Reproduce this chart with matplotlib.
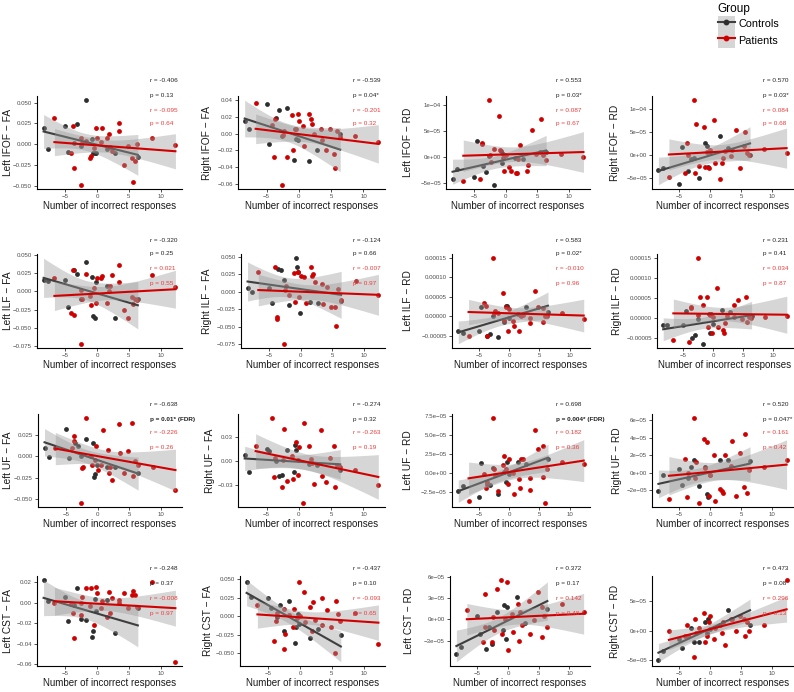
import matplotlib
matplotlib.use("Agg")
import matplotlib.pyplot as plt
from matplotlib.patches import Patch
from matplotlib.lines import Line2D
from matplotlib.legend_handler import HandlerTuple
import numpy as np

plt.rcParams['font.family'] = ['Liberation Sans', 'DejaVu Sans']

# Number of incorrect responses (centred), one value per subject
ctrl_x = [-8.4, -7.7, -5.0, -4.6, -3.6, -3.1, -2.6, -1.8, -0.8, -0.6, -0.4, -0.1, 1.5, 2.8, 6.4]
pat_x = [-6.7, -4.1, -3.8, -3.7, -2.6, -2.5, -2.3, -1.8, -1.1, -0.9, -0.5, -0.2, 0.0, 0.6, 0.8,
         1.6, 1.8, 2.0, 2.3, 3.4, 3.5, 4.2, 4.8, 5.5, 5.6, 5.9, 6.3, 8.7, 12.3]

# Row 1: IFOF
ctrl_l_ifof_fa = [0.019, -0.006, 0.0225, -0.010, 0.001, 0.024, -0.002, 0.053, 0.006, -0.011, -0.011, -0.011, -0.006, -0.011, -0.015]
pat_l_ifof_fa = [0.032, -0.011, 0.022, -0.029, -0.049, 0.007, 0.001, 0.004, -0.017, -0.014, -0.005, 0.019, 0.007, 0.003, 0.019,
                 0.008, 0.012, -0.003, -0.008, 0.026, 0.016, -0.025, -0.002, -0.017, -0.046, -0.020, 0.000, 0.007, -0.001]
ctrl_r_ifof_fa = [0.015, 0.005, 0.035, -0.012, 0.019, 0.028, -0.003, 0.030, -0.031, 0.005, -0.006, -0.008, -0.033, -0.020, 0.000]
pat_r_ifof_fa = [0.037, 0.010, -0.028, 0.018, -0.061, -0.002, 0.003, -0.028, 0.022, -0.020, 0.005, 0.023, 0.015, 0.009, -0.015,
                 0.023, 0.018, 0.011, 0.000, 0.006, -0.008, -0.019, 0.005, -0.024, -0.041, 0.003, -0.004, -0.003, -0.010]
ctrl_l_ifof_rd = [-4.2e-5, -2.3e-5, -3.8e-5, 3.2e-5, -1.6e-5, -2.8e-5, 3e-6, -5.3e-5, 1.3e-5, -1.1e-5, 6e-6, 5e-6, -2e-6, -3e-6, 1.0e-5]
pat_l_ifof_rd = [-4.5e-5, -4.2e-5, 2.5e-5, 2.7e-5, 1.1e-4, 4e-6, -1.0e-5, 1.6e-5, 7.9e-5, 1.4e-5, -2e-6, -2.7e-5, 5e-6, -1.8e-5, -2.7e-5,
                 -3.0e-5, -3.1e-5, -4e-6, 2.3e-5, -2.6e-5, -1.4e-5, 5.3e-5, 7e-6, 1.0e-5, 7.3e-5, 4e-6, -6e-6, 6e-6, 1e-6]
ctrl_r_ifof_rd = [-3.3e-5, -2.9e-5, -6.4e-5, 1.6e-5, -3.6e-5, -1.0e-5, -8e-6, -5.1e-5, 2.5e-5, 1.9e-5, -2.7e-5, 5e-6, 4.0e-5, 1.5e-5, 0.0]
pat_r_ifof_rd = [-4.8e-5, -4.1e-5, 2.6e-5, 0.0, 1.18e-4, -3.9e-5, 6.6e-5, -2.4e-5, 5.9e-5, -2.8e-5, 5e-6, -3.0e-5, 1.0e-5, 7.4e-5, -1.8e-5,
                 -5.4e-5, -1.8e-5, -7e-6, 8e-6, -4e-6, 1.0e-5, 5.3e-5, -2.9e-5, 1.8e-5, 5.0e-5, 3e-6, -2e-6, 1.3e-5, 4e-6]

# Row 2: ILF
ctrl_l_ilf_fa = [0.016, 0.014, 0.016, -0.021, 0.029, 0.024, -0.011, 0.041, 0.020, -0.034, -0.036, 0.013, 0.007, -0.037, -0.010]
pat_l_ilf_fa = [0.018, -0.030, 0.029, -0.033, -0.072, 0.002, -0.010, 0.024, -0.006, -0.018, 0.005, -0.016, 0.019, 0.019, 0.021,
                -0.016, 0.000, 0.007, 0.023, 0.013, 0.036, -0.025, -0.037, -0.008, -0.017, -0.010, -0.012, 0.023, 0.006]
ctrl_r_ilf_fa = [0.006, 0.000, 0.005, -0.016, 0.033, 0.031, 0.017, -0.018, 0.048, 0.036, 0.028, -0.030, -0.015, -0.016, -0.013]
pat_r_ilf_fa = [0.029, 0.035, -0.036, -0.038, -0.074, 0.003, 0.008, -0.005, 0.027, -0.015, 0.028, -0.007, 0.023, 0.021, -0.016,
                0.036, 0.022, 0.025, 0.014, 0.011, -0.017, 0.007, -0.021, -0.022, -0.049, 0.004, -0.011, 0.016, -0.005]
ctrl_l_ilf_rd = [-3.8e-5, -4.2e-5, -3.6e-5, 2.5e-5, -4.9e-5, -4.5e-5, 0.0, -5.3e-5, -1.3e-5, 2.8e-5, 2.6e-5, -5e-6, 7e-6, 2.4e-5, 1.2e-5]
pat_l_ilf_rd = [-4.9e-5, 3.5e-5, 2.8e-5, -5.0e-5, 1.49e-4, 1.0e-5, 1.3e-5, 8e-6, 6.1e-5, -1.0e-5, 2.3e-5, -3.6e-5, 2.0e-5, -1.2e-5, -2.4e-5,
                -3.7e-5, 5e-6, 0.0, 3e-6, -1.6e-5, -3e-6, 6.4e-5, 2.3e-5, -1.3e-5, 2.1e-5, 2e-6, 1e-6, 1.0e-5, -7e-6]
ctrl_r_ilf_rd = [-1.9e-5, -1.9e-5, -1.9e-5, 1.8e-5, -5.0e-5, -4.2e-5, -2e-6, -6.5e-5, 9e-6, -3.7e-5, 9e-6, -1.5e-5, 1.9e-5, 1.4e-5, 5e-6]
pat_r_ilf_rd = [-5.5e-5, -6.0e-5, 2.6e-5, 2.7e-5, 1.50e-4, 8e-6, 5.3e-5, 3.3e-5, 5.3e-5, -2.3e-5, 8e-6, -3.7e-5, 1e-6, 7.5e-5, -2.3e-5,
                -3.1e-5, -3.8e-5, -1.3e-5, 5e-6, 3.3e-5, 3e-6, 4.6e-5, -4e-6, 5.3e-5, -1.0e-5, 2e-6, 0.0, 1e-6, 5e-6]

# Row 3: UF
ctrl_l_uf_fa = [0.010, -0.001, 0.031, -0.002, 0.015, 0.012, 0.000, 0.020, 0.015, -0.024, -0.021, -0.010, -0.012, -0.013, -0.019]
pat_l_uf_fa = [0.009, 0.010, 0.023, 0.018, -0.054, -0.014, -0.012, 0.044, 0.000, -0.010, -0.004, 0.012, -0.016, -0.010, 0.030,
               0.007, -0.019, -0.013, -0.028, 0.037, 0.004, -0.019, 0.006, 0.039, -0.023, -0.005, -0.010, -0.013, -0.039]
ctrl_r_uf_fa = [0.007, -0.014, 0.015, 0.012, 0.000, -0.019, -0.018, 0.014, -0.014, 0.020, 0.013, 0.001, -0.004, -0.005, -0.011]
pat_r_uf_fa = [0.018, 0.053, -0.020, 0.003, -0.033, 0.001, 0.040, -0.025, 0.006, -0.022, 0.023, -0.017, 0.017, -0.052, 0.047,
               0.018, 0.002, -0.003, -0.029, 0.039, -0.019, -0.026, 0.004, 0.019, -0.032, -0.005, -0.008, -0.011, -0.030]
ctrl_l_uf_rd = [-2.4e-5, -1.75e-5, -3.2e-5, 1.3e-5, -1.4e-5, -1.6e-5, 6e-6, -2.8e-5, 2e-6, -1.2e-5, 1.4e-5, -1e-6, 1.4e-5, 1.2e-5, 1.8e-5]
pat_l_uf_rd = [-3.7e-5, -1e-6, -2.0e-5, -1.2e-5, 7.2e-5, 5e-6, -3e-6, -2.4e-5, 1.1e-5, 2.3e-5, 5e-6, -1.5e-5, 1.9e-5, 0.0, -2.8e-5,
               -8e-6, -2.0e-5, 1.8e-5, 1.8e-5, -7e-6, -2.2e-5, 5.7e-5, 3.2e-5, -5e-6, 3.6e-5, -3.9e-5, 5e-6, 1.4e-5, 1.2e-5]
ctrl_r_uf_rd = [-2.1e-5, -3e-6, 4.9e-6, -1.35e-5, -5.6e-6, 7e-6, 1.5e-5, -1.5e-5, 6.4e-6, -2.4e-5, -2.7e-5, -2.6e-6, 1.5e-5, 1.5e-5, 1.3e-5]
pat_r_uf_rd = [-3.0e-5, 1.6e-5, -2.7e-5, 0.0, 6.2e-5, -5.6e-6, 1.2e-5, -3.4e-5, 3.8e-5, 5e-6, 3.5e-5, -2.6e-5, -3e-6, 2.0e-5, -3.2e-5,
               -1.8e-5, -2.1e-5, -2.3e-5, 2.0e-5, 8e-6, 3.6e-5, -2.6e-5, 2.3e-5, -1.6e-5, 4.4e-5, -2.3e-5, 3e-6, 7e-6, 1.4e-5]

# Row 4: CST
ctrl_l_cst_fa = [0.022, 0.002, 0.006, -0.018, -0.002, 0.015, -0.016, -0.017, -0.034, -0.028, 0.004, -0.008, 0.003, -0.030, -0.005]
pat_l_cst_fa = [0.000, -0.001, -0.010, -0.035, 0.000, -0.012, 0.006, 0.015, -0.003, 0.015, -0.022, 0.016, 0.010, -0.005, 0.002,
                -0.014, 0.011, -0.010, 0.005, 0.000, 0.003, 0.010, -0.005, 0.008, 0.012, 0.008, -0.004, 0.020, -0.058]
ctrl_r_cst_fa = [0.047, 0.026, 0.025, 0.011, -0.001, 0.015, -0.020, 0.020, -0.037, -0.014, 0.003, -0.010, -0.030, -0.017, -0.025]
pat_r_cst_fa = [0.015, -0.033, -0.007, 0.005, -0.045, 0.010, -0.024, 0.002, -0.015, 0.010, -0.003, 0.046, 0.000, 0.033, -0.008,
                0.012, -0.020, 0.019, -0.005, 0.025, -0.012, 0.008, -0.014, -0.050, 0.020, 0.003, -0.006, 0.005, -0.038]
ctrl_l_cst_rd = [-4.8e-5, -3.8e-5, 5e-6, -2.0e-5, -4.1e-5, -1.0e-5, -3.5e-5, 1.0e-5, -1.5e-5, 2.0e-5, -2.8e-5, 1.7e-5, 3.1e-5, -5e-6, 1.5e-5]
pat_l_cst_rd = [1.3e-5, -3.1e-5, 3.6e-5, -1.0e-5, -3.1e-5, 4e-6, -1.5e-5, 4.3e-5, 5.5e-5, -2.0e-5, 0.0, 5.2e-5, -4.3e-5, 8e-6, -1.8e-5,
                2.2e-5, -3.0e-5, 1.0e-5, -8e-6, 2.6e-5, -2.0e-5, -1e-6, 3.8e-5, -2.5e-5, 1.8e-5, 5e-6, -1.0e-5, 2.2e-5, 1.1e-5]
ctrl_r_cst_rd = [-5.0e-5, -3.5e-5, -1.5e-5, -3.0e-5, -1.0e-5, 5e-6, -2.0e-5, -2.0e-5, 1.5e-5, -5e-6, 2.0e-5, 3e-6, 1.0e-5, 3.5e-5, 1.0e-5]
pat_r_cst_rd = [0.0, -1.0e-5, 1.0e-5, -1.0e-5, -4.5e-5, 2.0e-5, -5e-6, 5e-6, 3.0e-5, -2.0e-5, -1.0e-5, 1.5e-5, 2.5e-5, -1.5e-5, 5e-6,
                1.0e-5, -5e-6, 1.5e-5, -2.5e-5, 2.0e-5, 2.0e-5, 0.0, 2.5e-5, 2.0e-5, -1.0e-5, 1.5e-5, 0.0, 1.0e-5, 8.5e-5]

# panel titles (y labels), y ticks and the printed statistics
y_labels = ["Left IFOF − FA", "Right IFOF − FA", "Left IFOF − RD", "Right IFOF − RD",
            "Left ILF − FA", "Right ILF − FA", "Left ILF − RD", "Right ILF − RD",
            "Left UF − FA", "Right UF − FA", "Left UF − RD", "Right UF − RD",
            "Left CST − FA", "Right CST − FA", "Left CST − RD", "Right CST − RD"]

tick_fa50 = ([-0.05, -0.025, 0, 0.025, 0.05], ["−0.050", "−0.025", "0.000", "0.025", "0.050"])
tick_fa75 = ([-0.075, -0.05, -0.025, 0, 0.025, 0.05], ["−0.075", "−0.050", "−0.025", "0.000", "0.025", "0.050"])
tick_fa06 = ([-0.06, -0.04, -0.02, 0, 0.02, 0.04], ["−0.06", "−0.04", "−0.02", "0.00", "0.02", "0.04"])
tick_rd1e4 = ([-5e-5, 0, 5e-5, 1e-4], ["−5e−05", "0e+00", "5e−05", "1e−04"])
tick_rd15 = ([-5e-5, 0, 5e-5, 1e-4, 1.5e-4], ["−0.00005", "0.00000", "0.00005", "0.00010", "0.00015"])
tick_uf_fa = ([-0.05, -0.025, 0, 0.025], ["−0.050", "−0.025", "0.000", "0.025"])
tick_ruf_fa = ([-0.03, 0, 0.03], ["−0.03", "0.00", "0.03"])
tick_luf_rd = ([-2.5e-5, 0, 2.5e-5, 5e-5, 7.5e-5], ["−2.5e−05", "0.0e+00", "2.5e−05", "5.0e−05", "7.5e−05"])
tick_ruf_rd = ([-2e-5, 0, 2e-5, 4e-5, 6e-5], ["−2e−05", "0e+00", "2e−05", "4e−05", "6e−05"])
tick_lcst_fa = ([-0.06, -0.04, -0.02, 0, 0.02], ["−0.06", "−0.04", "−0.02", "0.00", "0.02"])
tick_lcst_rd = ([-3e-5, 0, 3e-5, 6e-5], ["−3e−05", "0e+00", "3e−05", "6e−05"])
y_ticks = [tick_fa50, tick_fa06, tick_rd1e4, tick_rd1e4,
           tick_fa75, tick_fa75, tick_rd15, tick_rd15,
           tick_uf_fa, tick_ruf_fa, tick_luf_rd, tick_ruf_rd,
           tick_lcst_fa, tick_fa50, tick_lcst_rd, tick_rd1e4]

ctrl_stats = [("-0.406", "0.13"), ("-0.539", "0.04*"), ("0.553", "0.03*"), ("0.570", "0.03*"),
              ("-0.320", "0.25"), ("-0.124", "0.66"), ("0.583", "0.02*"), ("0.231", "0.41"),
              ("-0.638", "0.01* (FDR)"), ("-0.274", "0.32"), ("0.698", "0.004* (FDR)"), ("0.520", "0.047*"),
              ("-0.248", "0.37"), ("-0.437", "0.10"), ("0.372", "0.17"), ("0.473", "0.08")]
pat_stats = [("-0.095", "0.64"), ("-0.201", "0.32"), ("0.087", "0.67"), ("0.084", "0.68"),
             ("0.021", "0.55"), ("-0.007", "0.97"), ("-0.010", "0.96"), ("0.034", "0.87"),
             ("-0.226", "0.26"), ("-0.263", "0.19"), ("0.182", "0.36"), ("0.161", "0.42"),
             ("-0.008", "0.97"), ("-0.093", "0.65"), ("0.142", "0.48"), ("0.296", "0.13")]

ctrl_y = [ctrl_l_ifof_fa, ctrl_r_ifof_fa, ctrl_l_ifof_rd, ctrl_r_ifof_rd,
          ctrl_l_ilf_fa, ctrl_r_ilf_fa, ctrl_l_ilf_rd, ctrl_r_ilf_rd,
          ctrl_l_uf_fa, ctrl_r_uf_fa, ctrl_l_uf_rd, ctrl_r_uf_rd,
          ctrl_l_cst_fa, ctrl_r_cst_fa, ctrl_l_cst_rd, ctrl_r_cst_rd]
pat_y = [pat_l_ifof_fa, pat_r_ifof_fa, pat_l_ifof_rd, pat_r_ifof_rd,
         pat_l_ilf_fa, pat_r_ilf_fa, pat_l_ilf_rd, pat_r_ilf_rd,
         pat_l_uf_fa, pat_r_uf_fa, pat_l_uf_rd, pat_r_uf_rd,
         pat_l_cst_fa, pat_r_cst_fa, pat_l_cst_rd, pat_r_cst_rd]

CTRL = "#2e2e2e"
CTRL_LINE = "#3f3f3f"
PAT = "#d10000"
PAT_TXT = "#ee3b3b"

W, H = 794, 692
fig = plt.figure(figsize=(W / 100, H / 100), dpi=100)

# panel boxes in pixels
row_top = [96, 254, 414, 576]
row_bot = [189, 348, 507, 666]
col_left = [[37, 238, 446, 652], [37, 241, 452, 657], [38, 238, 452, 652], [37, 240, 450, 652]]
col_right = [182, 385, 590, 793]
ylab_x = [[8, 207, 408, 615], [8, 207, 408, 617], [8, 210, 408, 617], [8, 208, 409, 615]]
txt_x = [150, 353, 556, 763]
txt_y = [[81, 96, 110, 124], [240, 254, 269, 284], [404, 419, 433, 447], [568, 583, 598, 613]]


def lm_band(x, y, tval):
    # linear fit with 95% confidence band (like geom_smooth(method = "lm"))
    x = np.asarray(x)
    y = np.asarray(y)
    b, a = np.polyfit(x, y, 1)
    xs = np.linspace(x.min(), x.max(), 80)
    fit = a + b * xs
    res = y - (a + b * x)
    s = np.sqrt(np.sum(res ** 2) / (len(x) - 2))
    se = s * np.sqrt(1 / len(x) + (xs - x.mean()) ** 2 / np.sum((x - x.mean()) ** 2))
    return xs, fit, tval * se


for i in range(16):
    r, c = divmod(i, 4)
    l, rr = col_left[r][c], col_right[c]
    t, b = row_top[r], row_bot[r]
    ax = fig.add_axes([l / W, 1 - b / H, (rr - l) / W, (b - t) / H])

    ax.scatter(ctrl_x, ctrl_y[i], s=12, color=CTRL, linewidths=0, zorder=1)
    ax.scatter(pat_x, pat_y[i], s=12, color=PAT, linewidths=0, zorder=1)

    z = 2
    for x, y, col, tv in [(ctrl_x, ctrl_y[i], CTRL_LINE, 2.160), (pat_x, pat_y[i], PAT, 2.052)]:
        xs, fit, ci = lm_band(x, y, tv)
        ax.fill_between(xs, fit - ci, fit + ci, color="#999999", alpha=0.4, lw=0, zorder=z)
        ax.plot(xs, fit, color=col, lw=1.5, zorder=z + 1)
        z += 2

    ticks, tlabels = y_ticks[i]
    ax.set_yticks(ticks)
    ax.set_yticklabels(tlabels)
    ax.set_xticks([-5, 0, 5, 10])
    ax.set_xticklabels(["−5", "0", "5", "10"])
    ax.margins(x=0.05, y=0.05)

    for s in ["top", "right"]:
        ax.spines[s].set_visible(False)
    for s in ["left", "bottom"]:
        ax.spines[s].set_linewidth(0.8)
        ax.spines[s].set_color("black")
    ax.tick_params(labelsize=4.4, labelcolor="#4d4d4d", color="#333333", length=2.4, width=0.6, pad=1.2)
    ax.set_xlabel("Number of incorrect responses", fontsize=7, color="#1a1a1a", labelpad=1.5)
    ax.set_ylabel(y_labels[i], fontsize=7.3, color="#1a1a1a", va="center")
    ax.yaxis.set_label_coords((ylab_x[r][c] - l) / (rr - l), 0.5)

    # statistics text
    ty = txt_y[r]
    bold = "FDR" in ctrl_stats[i][1]
    fs = 4.6
    fig.text(txt_x[c] / W, 1 - ty[0] / H, "r = " + ctrl_stats[i][0], fontsize=fs, color="#222222", va="center")
    fig.text(txt_x[c] / W, 1 - ty[1] / H, "p = " + ctrl_stats[i][1], fontsize=fs, color="#222222", va="center",
             fontweight="bold" if bold else "normal")
    fig.text(txt_x[c] / W, 1 - ty[2] / H, "r = " + pat_stats[i][0], fontsize=fs, color=PAT_TXT, va="center")
    fig.text(txt_x[c] / W, 1 - ty[3] / H, "p = " + pat_stats[i][1], fontsize=fs, color=PAT_TXT, va="center")

# legend
h_ctrl = (Patch(facecolor="#d6d6d6", edgecolor="none"),
          Line2D([], [], color=CTRL_LINE, lw=1.5, marker="o", ms=3.2, mfc=CTRL, mec=CTRL))
h_pat = (Patch(facecolor="#d6d6d6", edgecolor="none"),
         Line2D([], [], color=PAT, lw=1.5, marker="o", ms=3.2))
fig.legend([h_ctrl, h_pat], ["Controls", "Patients"], title="Group", loc="upper left",
           bbox_to_anchor=(711 / W, 1 + 3 / H), frameon=False, fontsize=7.8, title_fontsize=8.5,
           handlelength=1.6, handleheight=1.85, handletextpad=0.3, labelspacing=0.05, borderpad=0.1,
           alignment="left", handler_map={tuple: HandlerTuple(ndivide=1, pad=0)})

fig.savefig("out.png", dpi=100)
